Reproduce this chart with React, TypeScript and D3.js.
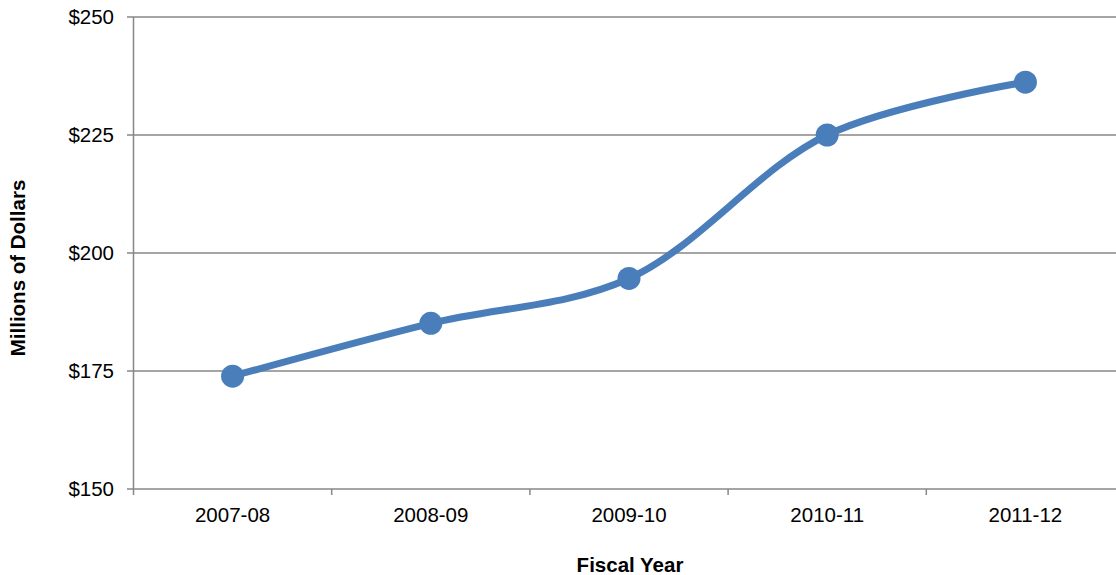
import React from "react";
import * as d3 from "d3";

const categories = ["2007-08", "2008-09", "2009-10", "2010-11", "2011-12"];
const values = [173.9, 185.1, 194.6, 225.0, 236.2];
const yTicks = [150, 175, 200, 225, 250];

const W = 1116;
const H = 575;
const left = 133.5;
const right = 1124.5;
const top = 17;
const bottom = 489;

export default function App() {
  const x = d3.scaleBand<string>().domain(categories).range([left, right]).padding(0);
  const y = d3.scaleLinear().domain([150, 250]).range([bottom, top]);
  const cx = (c: string) => (x(c) as number) + x.bandwidth() / 2;
  const pts: [number, number][] = categories.map((c, i) => [cx(c), y(values[i])]);
  const line = d3.line().curve(d3.curveCatmullRom.alpha(0.5))(pts) || "";
  const font = "'Liberation Sans', Arial, sans-serif";
  const grid = "#878787";
  const boundaries = categories.map((c) => x(c) as number);

  return (
    <svg width={W} height={H} style={{ position: "absolute", left: 0, top: 0 }} fontFamily={font}>
      <rect width={W} height={H} fill="#fff" />
      {yTicks.map((t) => (
        <g key={t}>
          <line x1={127} x2={W} y1={y(t)} y2={y(t)} stroke={grid} strokeWidth={1.5} />
          <text x={114} y={y(t)} dy="0.35em" textAnchor="end" fontSize={20.5} fill="#000">
            {"$" + t}
          </text>
        </g>
      ))}
      <line x1={left} x2={left} y1={top} y2={bottom + 6} stroke={grid} strokeWidth={1.5} />
      {boundaries.slice(1).map((b, i) => (
        <line key={i} x1={b} x2={b} y1={bottom} y2={bottom + 6} stroke={grid} strokeWidth={1.5} />
      ))}
      {categories.map((c) => (
        <text key={c} x={cx(c)} y={522} textAnchor="middle" fontSize={20.5} fill="#000">
          {c}
        </text>
      ))}
      <path d={line} fill="none" stroke="#4A7EBB" strokeWidth={7} strokeLinecap="round" />
      {pts.map((p, i) => (
        <circle key={i} cx={p[0]} cy={p[1]} r={11.5} fill="#4A7EBB" />
      ))}
      <text x={630} y={572} textAnchor="middle" fontSize={20.5} fontWeight="bold" fill="#000">
        Fiscal Year
      </text>
      <text
        transform={`translate(25,268) rotate(-90)`}
        textAnchor="middle"
        fontSize={20.5}
        fontWeight="bold"
        fill="#000"
      >
        Millions of Dollars
      </text>
    </svg>
  );
}
